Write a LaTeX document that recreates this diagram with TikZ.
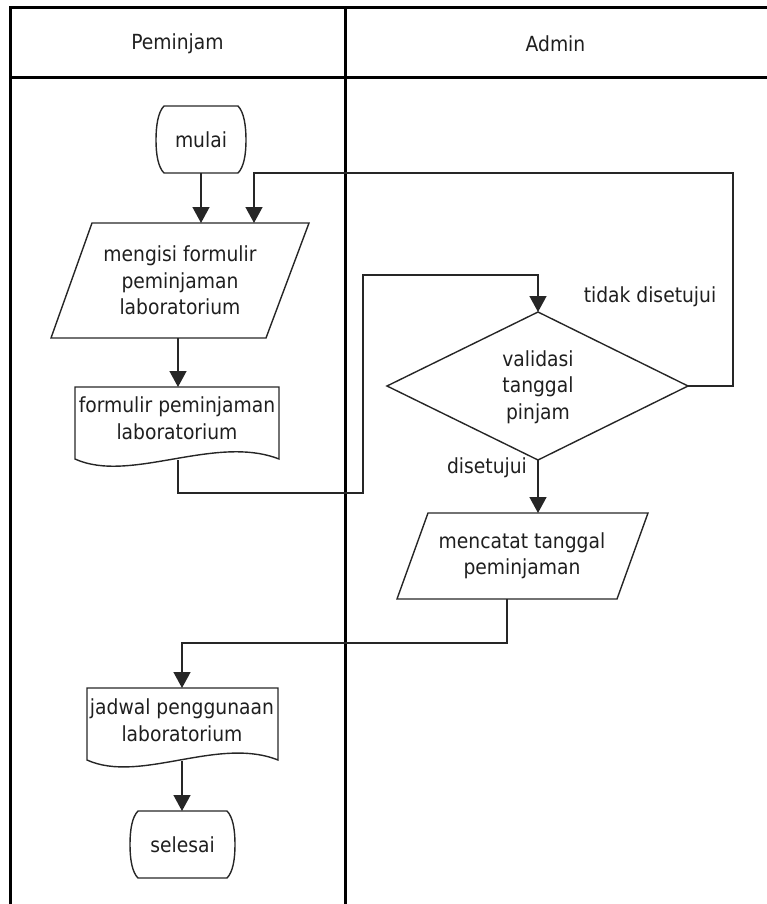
\documentclass[tikz,border=0pt]{standalone}
\usepackage{fontspec}
\setmainfont{DejaVu Sans Condensed}
\usetikzlibrary{arrows.meta}
\begin{document}
\begin{tikzpicture}[x=1pt,y=-1pt,
 lane/.style={line width=3pt,black},
 shapeline/.style={line width=1.4pt,black!85,line join=miter},
 flow/.style={line width=1.5pt,black!85},
 arr/.style={flow,-{Triangle[width=17pt,length=16pt]}},
 txt/.style={align=center,font=\fontsize{20.8}{26.5}\selectfont,inner sep=0pt,text=black!88},
 ]
\useasboundingbox (0,0) rectangle (766,904);
% swimlanes
\draw[lane] (10,906) -- (10,8) -- (768,8);
\draw[lane] (10,78) -- (768,78);
\draw[lane] (345,8) -- (345,906);
\node[txt] (h1) at (177.5,44) {Peminjam};
\node[txt] (h2) at (555.5,44) {Admin};

% mulai (terminal)
\draw[shapeline] (164,106) -- (238,106) .. controls (244,112) and (246,126) .. (246,140)
  .. controls (246,154) and (244,167) .. (238,173) -- (164,173)
  .. controls (158,167) and (156,154) .. (156,140) .. controls (156,126) and (158,112) .. (164,106) -- cycle;
\node[txt] (mulai) at (201,140) {mulai};

% parallelogram 1
\draw[shapeline] (92,223) -- (309,223) -- (266,338) -- (51,338) -- cycle;
\node[txt] (p1) at (180,280.5) {mengisi formulir\\peminjaman\\laboratorium};

% document 1
\draw[shapeline] (75,387) -- (279,387) -- (279,459) .. controls (215,434) and (130,484) .. (75,459) -- cycle;
\node[txt] (d1) at (177,418) {formulir peminjaman\\laboratorium};

% diamond
\draw[shapeline] (538,312) -- (688,386) -- (538,460) -- (387,386) -- cycle;
\node[txt] (dm) at (538,387) {validasi\\tanggal\\pinjam};

% parallelogram 2
\draw[shapeline] (428,513) -- (648,513) -- (617,599) -- (397,599) -- cycle;
\node[txt] (p2) at (522,556) {mencatat tanggal\\peminjaman};

% document 2
\draw[shapeline] (87,688) -- (278,688) -- (278,760) .. controls (218,736) and (140,784) .. (87,760) -- cycle;
\node[txt] (d2) at (182,720) {jadwal penggunaan\\laboratorium};

% selesai (terminal)
\draw[shapeline] (138,811) -- (227,811) .. controls (233,817) and (235,830) .. (235,844.5)
  .. controls (235,859) and (233,872) .. (227,878) -- (138,878)
  .. controls (132,872) and (130,859) .. (130,844.5) .. controls (130,830) and (132,817) .. (138,811) -- cycle;
\node[txt] (sel) at (182.5,845) {selesai};

% labels
\node[txt] (lt) at (650,297) {tidak disetujui};
\node[txt] (ly) at (487,468) {disetujui};

% connector points
\coordinate (mulaiS) at (201,173);
\coordinate (p1Ta) at (201,223);
\coordinate (p1Tb) at (254,223);
\coordinate (p1B) at (178,338);
\coordinate (d1T) at (178,387);
\coordinate (d1B) at (178,460);
\coordinate (dmT) at (538,312);
\coordinate (dmB) at (538,460);
\coordinate (dmR) at (688,386);
\coordinate (p2T) at (538,513);
\coordinate (p2B) at (507,599);
\coordinate (d2T) at (182,688);
\coordinate (d2B) at (182,761);
\coordinate (selT) at (182,811);
\coordinate (k1) at (363,493);
\coordinate (k2) at (363,275);
\coordinate (k3) at (733,173);
\coordinate (k4) at (507,643);

% connectors
\draw[arr] (mulaiS) -- (p1Ta);
\draw[arr] (p1B) -- (d1T);
\draw[arr] (d1B) |- (k1) |- (k2) -| (dmT);
\draw[arr] (dmR) -| (k3) -| (p1Tb);
\draw[arr] (dmB) -- (p2T);
\draw[arr] (p2B) -- (k4) -| (d2T);
\draw[arr] (d2B) -- (selT);
\end{tikzpicture}
\end{document}
